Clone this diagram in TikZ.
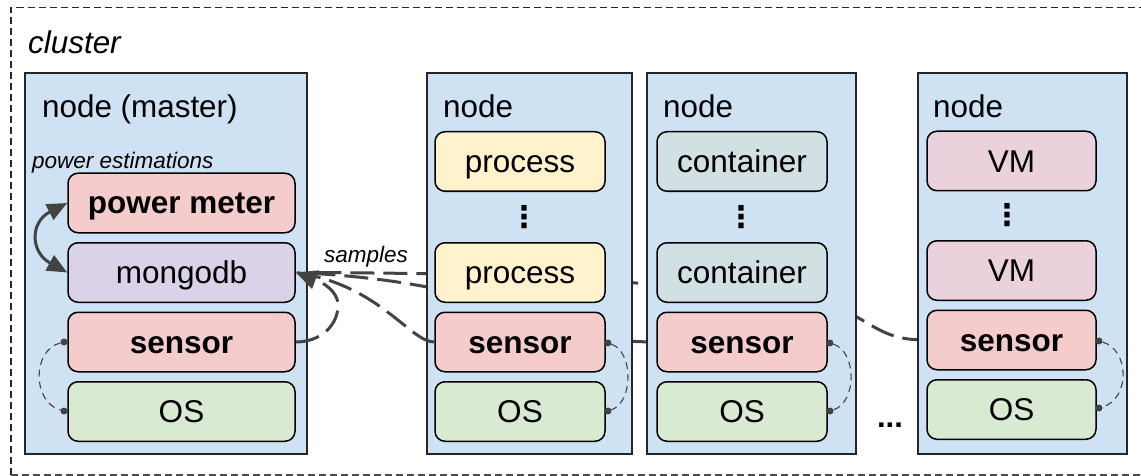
\documentclass[tikz,border=0pt]{standalone}
\usepackage{fontspec}
\setmainfont{Liberation Sans}
\newfontfamily\dotsfont{DejaVu Sans}
\usetikzlibrary{arrows.meta,backgrounds}
\definecolor{nodeblue}{HTML}{CFE2F3}
\definecolor{sensorred}{HTML}{F4CCCC}
\definecolor{mongopurple}{HTML}{D9D2E9}
\definecolor{osgreen}{HTML}{D9EAD3}
\definecolor{procyellow}{HTML}{FFF2CC}
\definecolor{contteal}{HTML}{D0E0E3}
\definecolor{vmpink}{HTML}{EAD1DC}
\definecolor{linegray}{HTML}{434343}
\tikzset{
  x=1pt,y=-1pt,
  hostbox/.style={draw=black!85,line width=1.5pt,fill=nodeblue,minimum height=381pt,inner sep=0pt},
  inner/.style={draw=black,line width=1.5pt,rounded corners=10pt,inner sep=0pt,minimum height=59.5pt,
     font=\fontsize{31.5}{31.5}\selectfont,text height=22pt,text depth=0pt,anchor=center},
  masterw/.style={inner,minimum width=227pt},
  w2/.style={inner,minimum width=170pt},
  w4/.style={inner,minimum width=169pt},
  sensorbox/.style={fill=sensorred,font=\fontsize{31.5}{31.5}\selectfont\bfseries},
  osbox/.style={fill=osgreen},
  lbl/.style={anchor=base west,inner sep=0pt,font=\fontsize{31.4}{31.4}\selectfont},
  smalllbl/.style={anchor=base west,inner sep=0pt,font=\fontsize{22.5}{22.5}\selectfont\itshape},
  vdots/.style={inner sep=0pt,font=\fontsize{30}{30}\selectfont\bfseries\dotsfont},
  samplesline/.style={draw=linegray,line width=3pt,dash pattern=on 24pt off 9pt},
  arrowline/.style={samplesline,-{Triangle[length=21pt,width=19pt]}},
  bothline/.style={draw=linegray,line width=3pt,{Triangle[length=20pt,width=17pt]}-{Triangle[length=20pt,width=17pt]}},
  monitor/.style={draw=linegray,line width=1.1pt,dash pattern=on 7pt off 5pt},
  dot/.style={circle,fill=linegray,inner sep=0pt,minimum size=7pt},
  clusterline/.style={line width=1.3pt,dash pattern=on 7pt off 4pt}
}
\begin{document}
\begin{tikzpicture}
\useasboundingbox (0,0) rectangle (1141,476);
\draw[clusterline,black!85] (11,475) -- (11,7.5) -- (1141,7.5);
\draw[clusterline,black!70] (11,475) -- (1141,475);
\node[anchor=base west,inner sep=0pt,font=\fontsize{31.4}{31.4}\selectfont\itshape] (clabel) at (28,53.5) {cluster};

% hosts
\node[hostbox,minimum width=282pt] (host1) at (166,263.5) {};
\node[hostbox,minimum width=205pt] (host2) at (529.5,263.5) {};
\node[hostbox,minimum width=209pt] (host3) at (751.5,263.5) {};
\node[hostbox,minimum width=209pt] (host4) at (1022.5,263.5) {};

\node[lbl] (h1l) at (42,118) {node (master)};
\node[lbl] (h2l) at (443,118) {node};
\node[lbl] (h3l) at (663,118) {node};
\node[lbl] (h4l) at (933,118) {node};
\node[smalllbl] (pe) at (32,168) {power estimations};
\node[smalllbl] (samp) at (324,262) {samples};

% master
\node[masterw,sensorbox] (pm) at (181.5,203) {power meter};
\node[masterw,fill=mongopurple] (mongo) at (181.5,272.5) {mongodb};
\node[masterw,sensorbox] (s1) at (181.5,342) {sensor};
\node[masterw,osbox] (os1) at (181.5,411.5) {OS};

% node 2
\node[w2,fill=procyellow] (p1) at (520,161.5) {process};
\node[vdots] (d2) at (524,217) {⋮};
\node[w2,fill=procyellow] (p2) at (520,272.5) {process};
\node[w2,sensorbox] (s2) at (520,342) {sensor};
\node[w2,osbox] (os2) at (520,411.5) {OS};

% node 3
\node[w2,fill=contteal] (c1) at (742,161.5) {container};
\node[vdots] (d3) at (741,217) {⋮};
\node[w2,fill=contteal] (c2) at (742,272.5) {container};
\node[w2,sensorbox] (s3) at (742,342) {sensor};
\node[w2,osbox] (os3) at (742,411.5) {OS};

% node 4
\node[w4,fill=vmpink] (v1) at (1011.5,161) {VM};
\node[vdots] (d4) at (1007,215) {⋮};
\node[w4,fill=vmpink] (v2) at (1011.5,270.5) {VM};
\node[w4,sensorbox] (s4) at (1011.5,340) {sensor};
\node[w4,osbox] (os4) at (1011.5,409.5) {OS};

\node[inner sep=0pt,font=\fontsize{31}{31}\selectfont\bfseries,anchor=base] (ell) at (890,427) {...};

% connectors that pass behind the hosts
\begin{pgfonlayer}{background}
\draw[samplesline] (s3.west) .. controls (600,342) and (520,330) .. (427,287) .. controls (380,278) and (330,274) .. (mongo.east);
\draw[samplesline] (s4.west) .. controls (890,340) and (880,330) .. (850,313) .. controls (800,292) and (700,288) .. (636,283) .. controls (560,276) and (450,273) .. (mongo.east);
\end{pgfonlayer}

% connectors in front of the hosts
\draw[samplesline] (s2.west) .. controls (410,342) and (380,285) .. (mongo.east);
\draw[arrowline] (s1.east) .. controls (320,342) and (338,326) .. (338,305) .. controls (338,291) and (322,282) .. (mongo.east);
\draw[bothline] (pm.west) .. controls (30,222) and (30,252) .. (mongo.west);

% monitoring arcs
\node[dot] (a1) at (64,342) {};
\node[dot] (b1) at (64,411) {};
\draw[monitor] (a1) .. controls (32,350) and (32,402) .. (b1);
\node[dot] (a2) at (608,343) {};
\node[dot] (b2) at (608,411) {};
\draw[monitor] (a2) .. controls (633.5,352) and (633.5,402) .. (b2);
\node[dot] (a3) at (830,343) {};
\node[dot] (b3) at (830,411) {};
\draw[monitor] (a3) .. controls (857,352) and (857,402) .. (b3);
\node[dot] (a4) at (1099,341) {};
\node[dot] (b4) at (1099,408) {};
\draw[monitor] (a4) .. controls (1130,350) and (1130,399) .. (b4);
\end{tikzpicture}
\end{document}
